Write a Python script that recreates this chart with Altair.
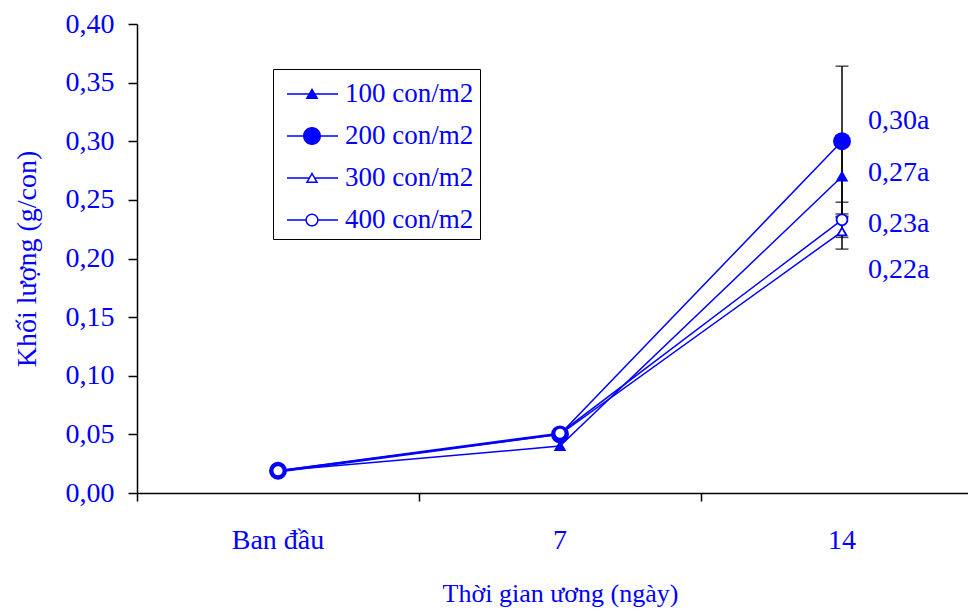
import altair as alt
import pandas as pd

categories = ["Ban đầu", "7", "14"]
series = ["100 con/m2", "200 con/m2", "300 con/m2", "400 con/m2"]
v100 = [0.019, 0.040, 0.270]
v200 = [0.019, 0.050, 0.300]
v300 = [0.018, 0.050, 0.223]
v400 = [0.019, 0.051, 0.233]

err_day = "14"
err_lo = [0.235, 0.236, 0.208, 0.218]
err_hi = [0.305, 0.364, 0.238, 0.248]

ann_text = ["0,30a", "0,27a", "0,23a", "0,22a"]
ann_y = [0.317, 0.273, 0.229, 0.190]

BLUE = "#0000FF"
FONT = "Liberation Serif"

rows = []
for s, vals in zip(series, [v100, v200, v300, v400]):
    for c, v in zip(categories, vals):
        rows.append({"day": c, "series": s, "value": v})
df = pd.DataFrame(rows)

err_df = pd.DataFrame({"day": [err_day] * 4, "series": series, "lo": err_lo, "hi": err_hi})
ann_df = pd.DataFrame({"day": [err_day] * 4, "text": ann_text, "y": ann_y})

x_enc = alt.X(
    "day:N",
    sort=categories,
    scale=alt.Scale(domain=categories, paddingInner=0, paddingOuter=0, range=[0, 846]),
    axis=alt.Axis(
        title="Thời gian ương (ngày)",
        titleX=423,
        labelAngle=0,
        bandPosition=0,
        labelFont=FONT, labelFontSize=28, labelColor=BLUE,
        titleFont=FONT, titleFontSize=26, titleColor=BLUE, titleFontWeight="normal",
        labelPadding=25, titlePadding=26,
        domainColor="black", domainWidth=1.5,
        tickColor="black", tickWidth=1.5, tickSize=8,
    ),
)
y_scale = alt.Scale(domain=[0, 0.4], nice=False, zero=True)
y_enc = alt.Y(
    "value:Q",
    scale=y_scale,
    axis=alt.Axis(
        title="Khối lượng (g/con)",
        values=[0, 0.05, 0.1, 0.15, 0.2, 0.25, 0.3, 0.35, 0.4],
        labelExpr="replace(format(datum.value, '.2f'), '.', ',')",
        labelFont=FONT, labelFontSize=28, labelColor=BLUE, labelPadding=14,
        titleFont=FONT, titleFontSize=28, titleColor=BLUE, titleFontWeight="normal",
        titlePadding=24,
        domainColor="black", domainWidth=1.5,
        tickColor="black", tickWidth=1.5, tickSize=9,
        grid=False,
    ),
)

base = alt.Chart(df)

lines = base.mark_line(color=BLUE, strokeWidth=1.5).encode(
    x=x_enc, y=y_enc, detail="series:N"
)

err_rule = alt.Chart(err_df).mark_rule(color="black", strokeWidth=1.5).encode(
    x=alt.X("day:N", sort=categories), y="lo:Q", y2="hi:Q"
)
err_cap_lo = alt.Chart(err_df).mark_tick(color="black", thickness=1.5, size=13, orient="horizontal").encode(
    x=alt.X("day:N", sort=categories), y="lo:Q"
)
err_cap_hi = alt.Chart(err_df).mark_tick(color="black", thickness=1.5, size=13, orient="horizontal").encode(
    x=alt.X("day:N", sort=categories), y="hi:Q"
)

marker_shape = ["triangle-up", "circle", "triangle-up", "circle"]
marker_fill = [BLUE, BLUE, "white", "white"]
marker_size = [90, 260, 80, 120]

point_layers = []
for s, shp, fl, sz in zip(series, marker_shape, marker_fill, marker_size):
    point_layers.append(
        base.transform_filter(alt.datum.series == s)
        .mark_point(shape=shp, filled=True, fill=fl, stroke=BLUE, strokeWidth=1.8, size=sz, opacity=1)
        .encode(x=alt.X("day:N", sort=categories), y="value:Q")
    )

# legend symbols drawn as filled outlines: line segment + marker (1 unit = 19 px)
SEG = "M-0.579,-0.04H2.105V0.04H-0.579Z"
legend_paths = [
    SEG + "M0.737,-0.316L1.079,0.263L0.395,0.263Z",
    SEG + "M1.211,0A0.474,0.474,0,1,1,0.263,0A0.474,0.474,0,1,1,1.211,0Z",
    "M-0.579,-0.04H0.567V0.04H-0.579Z"
    "M0.907,-0.04H2.105V0.04H0.907Z"
    "M0.737,-0.316L1.069,0.263L0.405,0.263Z"
    "M0.737,-0.16L0.537,0.184L0.937,0.184Z",
    "M-0.579,-0.04H0.397V0.04H-0.579Z"
    "M1.077,-0.04H2.105V0.04H1.077Z"
    "M1.084,0A0.347,0.347,0,1,1,0.39,0A0.347,0.347,0,1,1,1.084,0Z"
    "M1.005,0A0.268,0.268,0,1,0,0.469,0A0.268,0.268,0,1,0,1.005,0Z",
]

legend_layer = base.mark_point(filled=True, color=BLUE, strokeWidth=0, opacity=0).encode(
    x=alt.X("day:N", sort=categories),
    y="value:Q",
    shape=alt.Shape(
        "series:N",
        scale=alt.Scale(domain=series, range=legend_paths),
        legend=alt.Legend(
            title=None,
            orient="none",
            legendX=136,
            legendY=45,
            symbolSize=1444,
            symbolOpacity=1,
            symbolFillColor=BLUE,
            symbolStrokeWidth=0,
            labelFont=FONT,
            labelFontSize=27,
            labelColor=BLUE,
            labelOffset=28,
            labelExpr="datum.label + '\u2009\u2009\u2009'",
            rowPadding=10,
            padding=6,
            strokeColor="black",
            fillColor="white",
        ),
    ),
)

ann = alt.Chart(ann_df).mark_text(
    align="left", baseline="middle", dx=26, font=FONT, fontSize=28, color=BLUE
).encode(x=alt.X("day:N", sort=categories), y="y:Q", text="text:N")

chart = (
    alt.layer(lines, err_rule, err_cap_lo, err_cap_hi, *point_layers, legend_layer, ann)
    .properties(
        width=831,
        height=469,
        autosize=alt.AutoSizeParams(type="none"),
        padding={"top": 16, "left": 129, "right": 0, "bottom": 114},
    )
    .configure_view(stroke=None)
)

chart.save("out.html", embed_options={"renderer": "svg", "actions": False})
